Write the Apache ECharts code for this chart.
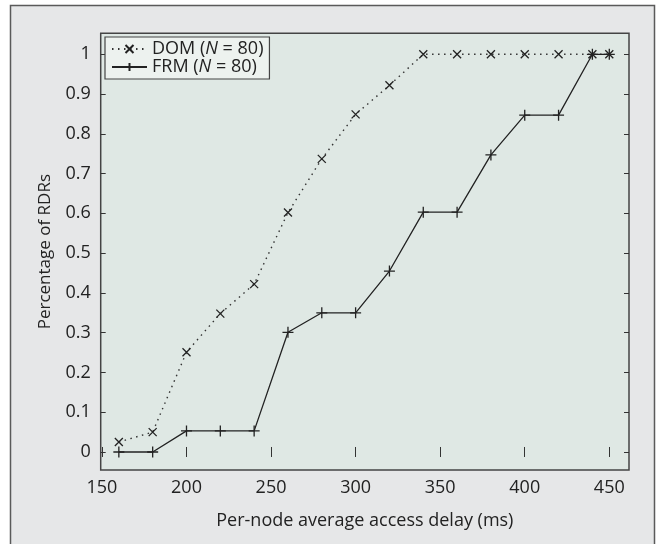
<!DOCTYPE html>
<html>
<head>
<meta charset="utf-8">
<script src="https://cdn.jsdelivr.net/npm/echarts@6/dist/echarts.min.js"></script>
<style>
html,body{margin:0;padding:0;background:#ffffff;}
#chart{width:661px;height:544px;}
</style>
</head>
<body>
<div id="chart"></div>
<script>
var xValues = [160, 180, 200, 220, 240, 260, 280, 300, 320, 340, 360, 380, 400, 420, 440, 450];
var domValues = [0.025, 0.05, 0.251, 0.348, 0.422, 0.602, 0.737, 0.849, 0.922, 1, 1, 1, 1, 1, 1, 1];
var frmValues = [0, 0, 0.053, 0.053, 0.053, 0.301, 0.35, 0.35, 0.455, 0.603, 0.603, 0.747, 0.847, 0.847, 1, 1];
var xTicks = [150, 200, 250, 300, 350, 400, 450];
var yTicks = [0, 0.1, 0.2, 0.3, 0.4, 0.5, 0.6, 0.7, 0.8, 0.9, 1];
var seriesNames = ['DOM', 'FRM'];

var FONT = 'Open Sans';
var FS = 18;
var chart = echarts.init(document.getElementById('chart'));
function pairs(ys){ return xValues.map(function(x,i){ return [x, ys[i]]; }); }
var xMin = 149.27, xMax = 461.65, yMin = -0.0453, yMax = 1.0528;
var tickStyle = {show:true, inside:true, length:5, lineStyle:{color:'#333', width:1}};
var crossPath = 'path://M0,0L10,10M10,0L0,10';
var plusPath = 'path://M5,0L5,10M0,5L10,5';
chart.setOption({
  animation:false,
  backgroundColor:'#ffffff',
  graphic:[{type:'rect', z:-10, shape:{x:10.5, y:5.5, width:644, height:560},
    style:{fill:'#e6e7e8', stroke:'#5a5a5a', lineWidth:1.5}}],
  grid:{left:100.7, right:32, top:33.3, bottom:74, show:true,
    backgroundColor:'#dfe8e4', borderColor:'#444', borderWidth:1.5},
  legend:{
    orient:'vertical', left:105, top:37, padding:[3,6,3,6], itemGap:0,
    itemWidth:35, itemHeight:10,
    backgroundColor:'#edf2ef', borderColor:'#444', borderWidth:1.2, borderRadius:0,
    data:seriesNames,
    formatter:function(n){ return '{a|' + n + ' (}{i|N}{a| = 80)}'; },
    textStyle:{fontFamily:FONT, fontSize:FS, color:'#222',
      rich:{a:{fontFamily:FONT, fontSize:FS, color:'#222', lineHeight:19}, i:{fontFamily:FONT, fontSize:FS, fontStyle:'italic', color:'#222', lineHeight:19}}}
  },
  xAxis:[{
    type:'value', min:xMin, max:xMax, position:'bottom',
    name:'Per-node average access delay (ms)', nameLocation:'middle', nameGap:42,
    nameTextStyle:{fontFamily:FONT, fontSize:FS, color:'#222'},
    axisLine:{show:false}, splitLine:{show:false},
    axisTick:Object.assign({customValues:xTicks}, tickStyle),
    axisLabel:{customValues:xTicks, fontFamily:FONT, fontSize:FS, color:'#222', margin:9}
  },{
    type:'value', min:xMin, max:xMax, position:'top',
    axisLine:{show:false}, splitLine:{show:false},
    axisTick:Object.assign({customValues:xTicks}, tickStyle),
    axisLabel:{show:false}
  }],
  yAxis:[{
    type:'value', min:yMin, max:yMax, position:'left',
    name:'Percentage of RDRs', nameLocation:'middle', nameGap:47,
    nameTextStyle:{fontFamily:FONT, fontSize:FS - 1, color:'#222'},
    axisLine:{show:false}, splitLine:{show:false},
    axisTick:Object.assign({customValues:yTicks}, tickStyle),
    axisLabel:{customValues:yTicks, fontFamily:FONT, fontSize:FS, color:'#222', margin:10,
      formatter:function(v){ return String(Math.round(v*10)/10); }}
  },{
    type:'value', min:yMin, max:yMax, position:'right',
    axisLine:{show:false}, splitLine:{show:false},
    axisTick:Object.assign({customValues:yTicks}, tickStyle),
    axisLabel:{show:false}
  }],
  series:[{
    name:seriesNames[0], type:'line', data:pairs(domValues),
    symbol:crossPath, symbolSize:8,
    itemStyle:{color:'transparent', borderColor:'#222', borderWidth:1.3},
    lineStyle:{color:'#333', width:1.4, type:[1.5,4.5]}
  },{
    name:seriesNames[1], type:'line', data:pairs(frmValues),
    symbol:plusPath, symbolSize:11,
    itemStyle:{color:'transparent', borderColor:'#222', borderWidth:1.3},
    lineStyle:{color:'#222', width:1.3}
  }]
});
</script>
</body>
</html>
